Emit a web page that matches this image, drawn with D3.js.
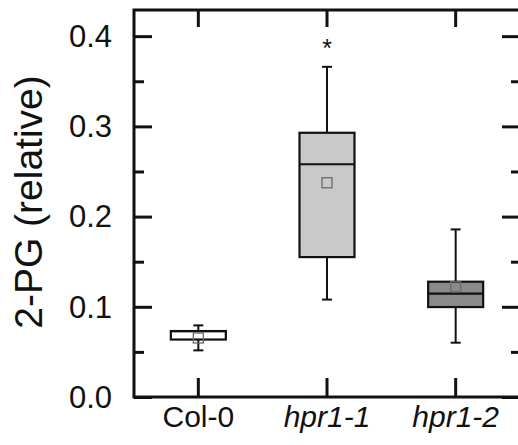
<!DOCTYPE html>
<html>
<head>
<meta charset="utf-8">
<script src="https://cdn.jsdelivr.net/npm/d3@7"></script>
<style>
  body { margin: 0; background: #fff; }
  svg { display: block; font-family: Arial, "Liberation Sans", sans-serif; }
</style>
</head>
<body>
<svg width="518" height="445"></svg>
<script>
// data
const groups = ['Col-0', 'hpr1-1', 'hpr1-2'];
const italicGroup = [false, true, true];
const whiskerLow = [0.0517, 0.108, 0.0602];
const q1 = [0.0637, 0.1551, 0.0997];
const medians = [0.0731, 0.258, 0.1145];
const q3 = [0.0731, 0.2929, 0.1278];
const whiskerHigh = [0.0794, 0.366, 0.1858];
const means = [0.0654, 0.2375, 0.1222];
const outliers = [[], [0.391], []];
const fills = ['#ffffff', '#c9c9c9', '#8a8a8a'];
const yTicks = [0.0, 0.1, 0.2, 0.3, 0.4];
const yMinorTicks = [0.05, 0.15, 0.25, 0.35];

const svg = d3.select('svg');
const width = +svg.attr('width');
const height = +svg.attr('height');

const margin = {top: 10, right: -2, bottom: 48, left: 134};
const innerWidth = width - margin.left - margin.right;
const innerHeight = height - margin.top - margin.bottom;

const data = groups.map((g, i) => ({
  name: g, italic: italicGroup[i],
  lo: whiskerLow[i], q1: q1[i], med: medians[i], q3: q3[i], hi: whiskerHigh[i],
  mean: means[i], out: outliers[i], fill: fills[i]
}));

const xScale = d3.scaleBand()
  .domain(groups)
  .range([0, innerWidth]);

const yScale = d3.scaleLinear()
  .domain([0, 0.429])
  .range([innerHeight, 0]);

const g = svg.append('g')
  .attr('transform', `translate(${margin.left}, ${margin.top})`);

const cx = d => xScale(d.name) + xScale.bandwidth() / 2;
const boxW = 55;
const capW = 10;

// boxes
const box = g.selectAll('.box').data(data).enter().append('g').attr('class', 'box');

box.append('line')
  .attr('x1', cx).attr('x2', cx)
  .attr('y1', d => yScale(d.hi)).attr('y2', d => yScale(d.q3))
  .attr('stroke', '#111').attr('stroke-width', 2);
box.append('line')
  .attr('x1', cx).attr('x2', cx)
  .attr('y1', d => yScale(d.q1)).attr('y2', d => yScale(d.lo))
  .attr('stroke', '#111').attr('stroke-width', 2);
box.append('line')
  .attr('x1', d => cx(d) - capW / 2).attr('x2', d => cx(d) + capW / 2)
  .attr('y1', d => yScale(d.hi)).attr('y2', d => yScale(d.hi))
  .attr('stroke', '#111').attr('stroke-width', 2);
box.append('line')
  .attr('x1', d => cx(d) - capW / 2).attr('x2', d => cx(d) + capW / 2)
  .attr('y1', d => yScale(d.lo)).attr('y2', d => yScale(d.lo))
  .attr('stroke', '#111').attr('stroke-width', 2);

box.append('rect')
  .attr('x', d => cx(d) - boxW / 2)
  .attr('y', d => yScale(d.q3))
  .attr('width', boxW)
  .attr('height', d => yScale(d.q1) - yScale(d.q3))
  .attr('fill', d => d.fill)
  .attr('stroke', '#111').attr('stroke-width', 2.2);

box.append('line')
  .attr('x1', d => cx(d) - boxW / 2).attr('x2', d => cx(d) + boxW / 2)
  .attr('y1', d => yScale(d.med)).attr('y2', d => yScale(d.med))
  .attr('stroke', '#111').attr('stroke-width', 2.2);

// mean squares
box.append('rect')
  .attr('x', d => cx(d) - 5)
  .attr('y', d => yScale(d.mean) - 5)
  .attr('width', 10).attr('height', 10)
  .attr('fill', 'none')
  .attr('stroke', '#6a6a6a').attr('stroke-width', 1.3);

// outliers
box.selectAll('.out').data(d => d.out.map(v => ({v, d}))).enter()
  .append('text')
  .attr('x', o => cx(o.d))
  .attr('y', o => yScale(o.v) + 13)
  .attr('text-anchor', 'middle')
  .attr('font-size', 25)
  .attr('fill', '#111')
  .text('*');

// tick-only axes: keep the lines, drop the (empty) labels
const tickOnly = sel => {
  sel.select('.domain').remove();
  sel.selectAll('.tick text').remove();
  sel.selectAll('.tick line').attr('stroke', '#111').attr('stroke-width', 3);
};

const yAxis = d3.axisLeft(yScale).tickValues(yTicks).tickSize(-18).tickPadding(22)
  .tickFormat(d3.format('.1f'));
const yAxisG = g.append('g').call(yAxis);
yAxisG.select('.domain').remove();
yAxisG.selectAll('.tick line').attr('stroke', '#111').attr('stroke-width', 3);
yAxisG.selectAll('.tick text').attr('font-size', 31).attr('fill', '#111').attr('dy', '0.33em');

g.append('g').call(d3.axisLeft(yScale).tickValues(yMinorTicks).tickSize(-10)).call(tickOnly);

g.append('g').attr('transform', `translate(${innerWidth}, 0)`)
  .call(d3.axisRight(yScale).tickValues(yTicks).tickSize(-18)).call(tickOnly);
g.append('g').attr('transform', `translate(${innerWidth}, 0)`)
  .call(d3.axisRight(yScale).tickValues(yMinorTicks).tickSize(-9)).call(tickOnly);

const xAxis = d3.axisBottom(xScale).tickSize(-19).tickPadding(9);
const xAxisG = g.append('g').attr('transform', `translate(0, ${innerHeight})`).call(xAxis);
xAxisG.select('.domain').remove();
xAxisG.selectAll('.tick line').attr('stroke', '#111').attr('stroke-width', 3);
xAxisG.selectAll('.tick text')
  .attr('font-size', 30).attr('fill', '#111')
  .attr('font-style', (d, i) => italicGroup[i] ? 'italic' : 'normal');

g.append('g').call(d3.axisTop(xScale).tickSize(-17)).call(tickOnly);

// frame
g.append('rect')
  .attr('width', innerWidth).attr('height', innerHeight)
  .attr('fill', 'none').attr('stroke', '#111').attr('stroke-width', 3);

// y label
svg.append('text')
  .attr('transform', `translate(42, ${margin.top + 192}) rotate(-90)`)
  .attr('text-anchor', 'middle')
  .attr('font-size', 39)
  .attr('fill', '#111')
  .text('2-PG (relative)');
</script>
</body>
</html>
